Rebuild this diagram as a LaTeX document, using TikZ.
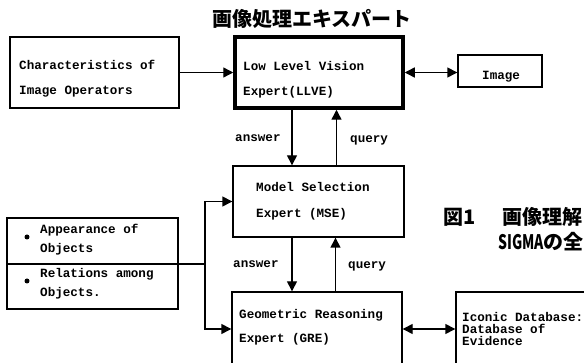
\documentclass[tikz,border=0pt]{standalone}
\usepackage{fontspec}
\setmonofont{Liberation Mono}
\newfontfamily\cjk{Noto Sans CJK JP}
\usetikzlibrary{arrows.meta}
\begin{document}
\begin{tikzpicture}[x=1pt,y=-1pt,
  box/.style={draw,line width=1.4pt,inner sep=0pt,rectangle},
  txt/.style={inner sep=0pt,anchor=base west,font=\ttfamily\bfseries\fontsize{12.6}{14}\selectfont},
  jp/.style={inner sep=0pt,anchor=base west,font=\cjk\bfseries\fontsize{20}{22}\selectfont},
  conn/.style={line width=1.4pt},
  arr/.style={conn,-{Triangle[length=10pt,width=10pt]}},
  darr/.style={conn,{Triangle[length=10pt,width=10pt]}-{Triangle[length=10pt,width=10pt]}}]
\useasboundingbox (0,0) rectangle (584,363);
% boxes
\node[box,minimum width=169pt,minimum height=71pt] (char) at (94.5,72.5) {};
\node[box,line width=3.5pt,minimum width=168pt,minimum height=71pt] (llve) at (319,72.5) {};
\node[box,minimum width=84pt,minimum height=32pt] (image) at (500,71) {};
\node[box,minimum width=171pt,minimum height=71pt] (mse) at (318.5,201.5) {};
\node[box,minimum width=171pt,minimum height=91pt] (objs) at (92.5,263.5) {};
\node[box,minimum width=170pt,minimum height=74pt] (gre) at (317,329) {};
\node[box,minimum width=144pt,minimum height=74pt] (icon) at (528,329) {};
% texts
\node[jp,anchor=base] (title) at (312,26.5) {画像処理エキスパート};
\node[txt] (t1) at (19,70) {Characteristics of};
\node[txt] (t2) at (19,95) {Image Operators};
\node[txt] (t3) at (243,71) {Low Level Vision};
\node[txt] (t4) at (243,96) {Expert(LLVE)};
\node[txt] (t5) at (482,80) {Image};
\node[txt] (t6) at (235,142) {answer};
\node[txt] (t7) at (350,143) {query};
\node[txt] (t8) at (256,192) {Model Selection};
\node[txt] (t9) at (256,218) {Expert (MSE)};
\node[txt] (t10) at (40,234) {Appearance of};
\node[txt] (t11) at (40,253) {Objects};
\node[txt] (t12) at (40,278) {Relations among};
\node[txt] (t13) at (40,297) {Objects.};
\node[txt] (t14) at (233,268) {answer};
\node[txt] (t15) at (348,269) {query};
\node[txt] (t16) at (239,319) {Geometric Reasoning};
\node[txt] (t17) at (239,343) {Expert (GRE)};
\node[txt] (t18) at (462,322) {Iconic Database:};
\node[txt] (t19) at (462,334) {Database of};
\node[txt] (t20) at (462,346) {Evidence};
\node[jp] (c1) at (443,224.5) {図1};
\node[jp] (c2) at (502,224.5) {画像理解};
\node[jp] (c3) at (498,250) {\scalebox{0.7}[1]{SIGMA}の全};
% bullets
\fill (27,237) circle (2.5pt);
\fill (27,281) circle (2.5pt);
% connectors
\draw[arr] (char.east) -- (llve.west);
\draw[darr] (llve.east) -- (llve.east -| image.west);
\draw[arr] ([xshift=-27pt]llve.south) -- ([xshift=-27pt]llve.south |- mse.north);
\draw[arr] ([xshift=18pt]mse.north) -- ([xshift=18pt]mse.north |- llve.south);
\draw[arr] ([xshift=-26.5pt]mse.south) -- ([xshift=-26.5pt]mse.south |- gre.north);
\draw[arr] ([xshift=18.5pt]gre.north) -- ([xshift=18.5pt]gre.north |- mse.south);
\coordinate (j) at (205,264);
\draw[conn] (objs.west |- j) -- (j);
\draw[arr] (j) |- (mse.west);
\draw[arr] (j) |- (gre.west);
\draw[darr] (gre.east) -- (icon.west);
\end{tikzpicture}
\end{document}
